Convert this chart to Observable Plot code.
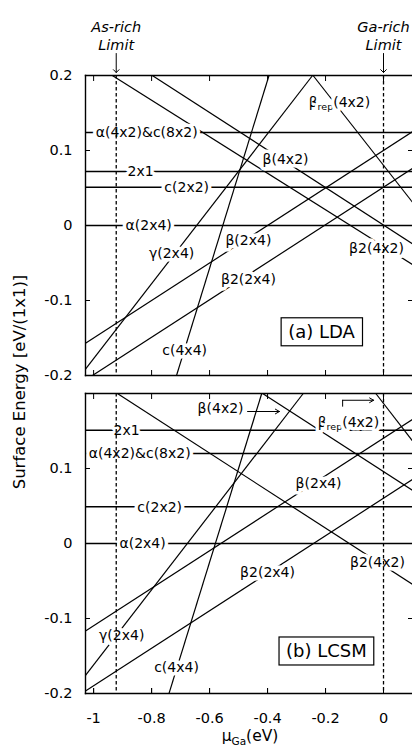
<!DOCTYPE html>
<html><head><meta charset="utf-8">
<script src="https://cdn.jsdelivr.net/npm/d3@7"></script>
<script src="https://cdn.jsdelivr.net/npm/@observablehq/plot@0.6"></script>
<style>
html,body{margin:0;padding:0;background:#fff;}
#chart{width:412px;height:748px;overflow:hidden;position:relative;}
</style></head><body><div id="chart"></div>
<script>
// ---------- data ----------
const panels = ["a", "b"];
const panelTitles = ["(a) LDA", "(b) LCSM"];
const titleMu = [-0.214, -0.197];
const titleE = [-0.1427, -0.1443];

const xTicks = [-1, -0.8, -0.6, -0.4, -0.2, 0];
const yTicks = [-0.2, -0.1, 0, 0.1, 0.2];
const yTickLabelsA = [-0.2, -0.1, 0, 0.1, 0.2];
const yTickLabelsB = [-0.2, -0.1, 0, 0.1];
const xDomain = [-1.028, 0.1];
const yDomain = [-0.2, 0.2];

const limitMu = [-0.922, 0];
const limitNames = ["As-rich\nLimit", "Ga-rich\nLimit"];

// structures whose energy does not depend on μGa
const flatNames = ["α(2x4)", "c(2x2)", "2x1", "α(4x2)&c(8x2)"];
const flatLDA = [0, 0.051, 0.072, 0.124];
const flatLCSM = [0, 0.049, 0.151, 0.120];

// sloped structures: two points (μGa, E) on each line
const slopedNames = ["β2(4x2)", "β(4x2)", "βrep(4x2)", "γ(2x4)", "c(4x4)", "β(2x4)", "β2(2x4)"];
const ldaMu1 = [-0.9355, -0.7976, -0.243, -1.028, -0.714, -1.028, -1.004];
const ldaE1  = [0.2, 0.2, 0.2, -0.1916, -0.2, -0.157, -0.2];
const ldaMu2 = [0.1, 0.1, 0.1, -0.2448, -0.395, 0.1, 0.1];
const ldaE2  = [-0.052, -0.0244, 0.031, 0.2, 0.2, 0.125, 0.076];

const lcsmMu1 = [-0.918, -0.417, -0.0266, -1.028, -0.74, -1.028, -1.028];
const lcsmE1  = [0.2, 0.2, 0.2, -0.1757, -0.2, -0.1166, -0.1966];
const lcsmMu2 = [0.1, 0.1, 0.1, -0.277, -0.42, 0.1, 0.1];
const lcsmE2  = [-0.0545, 0.0708, 0.1367, 0.2, 0.2, 0.1654, 0.0854];

// in-plot labels
const ldaLabelText = ["α(4x2)&c(8x2)", "2x1", "c(2x2)", "α(2x4)", "γ(2x4)", "β(2x4)", "β2(2x4)", "c(4x4)", "β(4x2)", "β2(4x2)", "β_rep(4x2)"];
const ldaLabelMu = [-0.817, -0.838, -0.679, -0.810, -0.731, -0.466, -0.466, -0.686, -0.338, -0.024, -0.152];
const ldaLabelE  = [0.124, 0.072, 0.051, 0, -0.0373, -0.02, -0.072, -0.167, 0.088, -0.031, 0.164];

const lcsmLabelText = ["2x1", "α(4x2)&c(8x2)", "c(2x2)", "α(2x4)", "β(4x2)", "β_rep(4x2)", "β(2x4)", "β2(4x2)", "β2(2x4)", "γ(2x4)", "c(4x4)"];
const lcsmLabelMu = [-0.886, -0.841, -0.772, -0.831, -0.562, -0.121, -0.224, -0.021, -0.40, -0.903, -0.714];
const lcsmLabelE  = [0.150, 0.120, 0.0485, 0, 0.180, 0.1616, 0.0805, -0.026, -0.039, -0.123, -0.166];

// pointer arrows in panel (b)
const arrowB = [{panel: "b", mu1: -0.469, e1: 0.176, mu2: -0.359, e2: 0.176},
                {panel: "b", mu1: -0.141, e1: 0.191, mu2: -0.034, e2: 0.191}];
const bendB = [{panel: "b", mu: -0.141, e: 0.183}, {panel: "b", mu: -0.141, e: 0.191}];

// ---------- tables ----------
const links = [];
slopedNames.forEach((n, i) => {
  links.push({panel: "a", name: n, mu1: ldaMu1[i], e1: ldaE1[i], mu2: ldaMu2[i], e2: ldaE2[i]});
  links.push({panel: "b", name: n, mu1: lcsmMu1[i], e1: lcsmE1[i], mu2: lcsmMu2[i], e2: lcsmE2[i]});
});
const flats = [];
flatNames.forEach((n, i) => {
  flats.push({panel: "a", name: n, e: flatLDA[i]});
  flats.push({panel: "b", name: n, e: flatLCSM[i]});
});
const labels = [];
ldaLabelText.forEach((t, i) => labels.push({panel: "a", text: t, mu: ldaLabelMu[i], e: ldaLabelE[i]}));
lcsmLabelText.forEach((t, i) => labels.push({panel: "b", text: t, mu: lcsmLabelMu[i], e: lcsmLabelE[i]}));
const titles = panels.map((p, i) => ({panel: p, text: panelTitles[i], mu: titleMu[i], e: titleE[i]}));
const limitData = limitMu.map((m, i) => ({panel: "a", mu: m, text: limitNames[i]}));
const yTickText = [
  ...yTickLabelsA.map(v => ({panel: "a", v})),
  ...yTickLabelsB.map(v => ({panel: "b", v}))
];

const fmt = d => String(d);

const chart = Plot.plot({
  width: 412, height: 748,
  marginLeft: 85, marginRight: 0, marginTop: 75, marginBottom: 54,
  style: {fontFamily: "'DejaVu Sans', sans-serif", fontSize: "14px", background: "white", color: "black", overflow: "visible"},
  x: {domain: xDomain},
  y: {domain: yDomain},
  fy: {domain: panels, axis: null, paddingInner: 0.0565, paddingOuter: 0, label: null},
  marks: [
    Plot.ruleY(flats, {y: "e", fy: "panel", strokeWidth: 1.3}),
    Plot.link(links, {x1: "mu1", y1: "e1", x2: "mu2", y2: "e2", fy: "panel", clip: true, strokeWidth: 1.2}),
    Plot.text(labels, {x: "mu", y: "e", text: "text", fy: "panel", fontSize: 14, fill: "black", stroke: "white", strokeWidth: 7}),
    Plot.ruleX(limitMu, {x: d => d, strokeWidth: 1.3, strokeDasharray: "3.5,2.5"}),
    Plot.arrow(arrowB, {x1: "mu1", y1: "e1", x2: "mu2", y2: "e2", fy: "panel", strokeWidth: 1, headLength: 7}),
    Plot.line(bendB, {x: "mu", y: "e", fy: "panel", strokeWidth: 1}),
    Plot.text(titles, {x: "mu", y: "e", text: "text", fy: "panel", fontSize: 18}),
    Plot.text(limitData, {x: "mu", text: "text", fy: "panel", frameAnchor: "top", lineAnchor: "bottom", dy: -26, fontStyle: "italic", fontSize: 14.5, lineHeight: 1.2}),
    Plot.vector(limitData, {x: "mu", fy: "panel", frameAnchor: "top", rotate: 180, length: 19, anchor: "end", dy: -3, r: 2.6, strokeWidth: 1}),
    Plot.frame({anchor: "top", strokeWidth: 1.4}),
    Plot.frame({anchor: "bottom", strokeWidth: 1.4}),
    Plot.frame({anchor: "left", strokeWidth: 1.4}),
    // y tick labels (panel b omits the top 0.2 label)
    Plot.text(yTickText, {y: "v", fy: "panel", text: d => fmt(d.v), frameAnchor: "left", textAnchor: "end", dx: -13, fontSize: 14.5}),
    Plot.axisY(yTicks, {anchor: "left", tickSize: -5, fill: "none", facetAnchor: null, label: null}),
    Plot.axisY(yTicks, {anchor: "right", tickSize: -5, fill: "none", facetAnchor: null, label: null}),
    Plot.axisX(xTicks, {anchor: "bottom", tickSize: -5, tickPadding: 24, tickFormat: fmt, fontSize: 14.5, label: null}),
    Plot.axisX(xTicks, {anchor: "bottom", tickSize: -5, fill: "none", facetAnchor: null, label: null}),
    Plot.axisX(xTicks, {anchor: "top", tickSize: -5, fill: "none", facetAnchor: null, label: null})
  ]
});

document.getElementById("chart").append(chart);
const svg = d3.select(chart);

// subscripts
svg.selectAll("text").each(function () {
  const t = this.textContent;
  if (t.includes("_rep")) {
    const el = d3.select(this);
    const rest = t.split("_rep")[1];
    el.text(null);
    el.append("tspan").text("β");
    el.append("tspan").attr("font-size", 9.5).attr("dy", 3.5).text("rep");
    el.append("tspan").attr("dy", -3.5).text(rest);
  }
});

// boxes around panel titles
svg.selectAll("text").filter(function () { return panelTitles.includes(this.textContent); }).each(function () {
  const b = this.getBBox();
  const node = this;
  d3.select(this.parentNode).insert("rect", () => node)
    .attr("x", b.x - 7).attr("y", b.y - 3.5)
    .attr("width", b.width + 14).attr("height", b.height + 7)
    .attr("fill", "white").attr("stroke", "black").attr("stroke-width", 1.2)
    .attr("transform", node.getAttribute("transform"));
});

// axis titles
svg.append("text")
  .attr("transform", "translate(25,382) rotate(-90)")
  .attr("text-anchor", "middle").attr("font-size", 16.5).attr("fill", "black")
  .text("Surface Energy [eV/(1x1)]");
const xl = svg.append("text").attr("x", 250).attr("y", 741).attr("text-anchor", "middle").attr("font-size", 15.5).attr("fill", "black");
xl.append("tspan").text("μ");
xl.append("tspan").attr("font-size", 10.5).attr("dy", 3.5).text("Ga");
xl.append("tspan").attr("dy", -3.5).text("(eV)");
</script></body></html>
